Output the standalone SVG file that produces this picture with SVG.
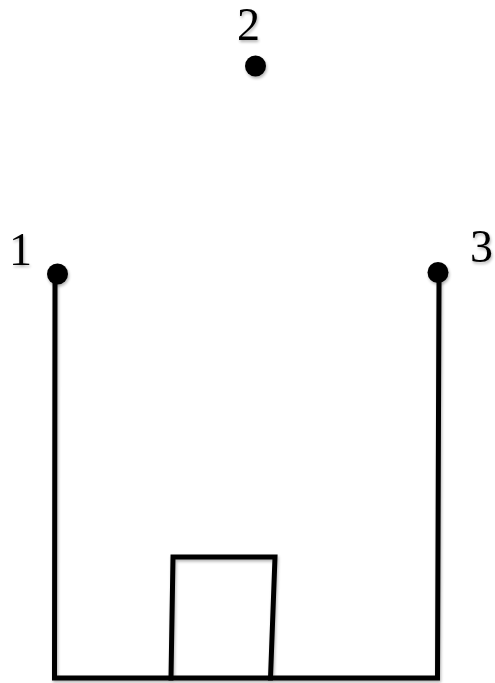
<svg xmlns="http://www.w3.org/2000/svg" width="495" height="683" viewBox="0 0 495 683">
  <style>
    .lbl { font-family: "Liberation Serif", "DejaVu Serif", serif; font-size: 46px; fill: #000; }
    .dot { fill: #000; }
    .ln { fill: none; stroke: #000; stroke-width: 5; stroke-linecap: square; stroke-linejoin: miter; }
  </style>
  <defs>
    <filter id="sh" x="-20%" y="-20%" width="140%" height="140%">
      <feGaussianBlur in="SourceAlpha" stdDeviation="1.5"/>
      <feOffset dx="1" dy="2" result="b"/>
      <feComponentTransfer><feFuncA type="linear" slope="0.3"/></feComponentTransfer>
      <feMerge><feMergeNode/><feMergeNode in="SourceGraphic"/></feMerge>
    </filter>
  </defs>
  <rect width="495" height="683" fill="#fff"/>
  <g id="connectors" filter="url(#sh)">
    <polyline class="ln" points="55,284 54.5,678 437.5,678 439,283"/>
    <polyline class="ln" points="171,678 173,557 275,557 270.5,678"/>
  </g>
  <g id="point1" filter="url(#sh)">
    <circle class="dot" cx="57.5" cy="274" r="10.5"/>
    <text class="lbl" x="9" y="265">1</text>
  </g>
  <g id="point2" filter="url(#sh)">
    <circle class="dot" cx="255.5" cy="66" r="10.5"/>
    <text class="lbl" x="237" y="40">2</text>
  </g>
  <g id="point3" filter="url(#sh)">
    <circle class="dot" cx="438" cy="272.5" r="10.5"/>
    <text class="lbl" x="470" y="262">3</text>
  </g>
</svg>
